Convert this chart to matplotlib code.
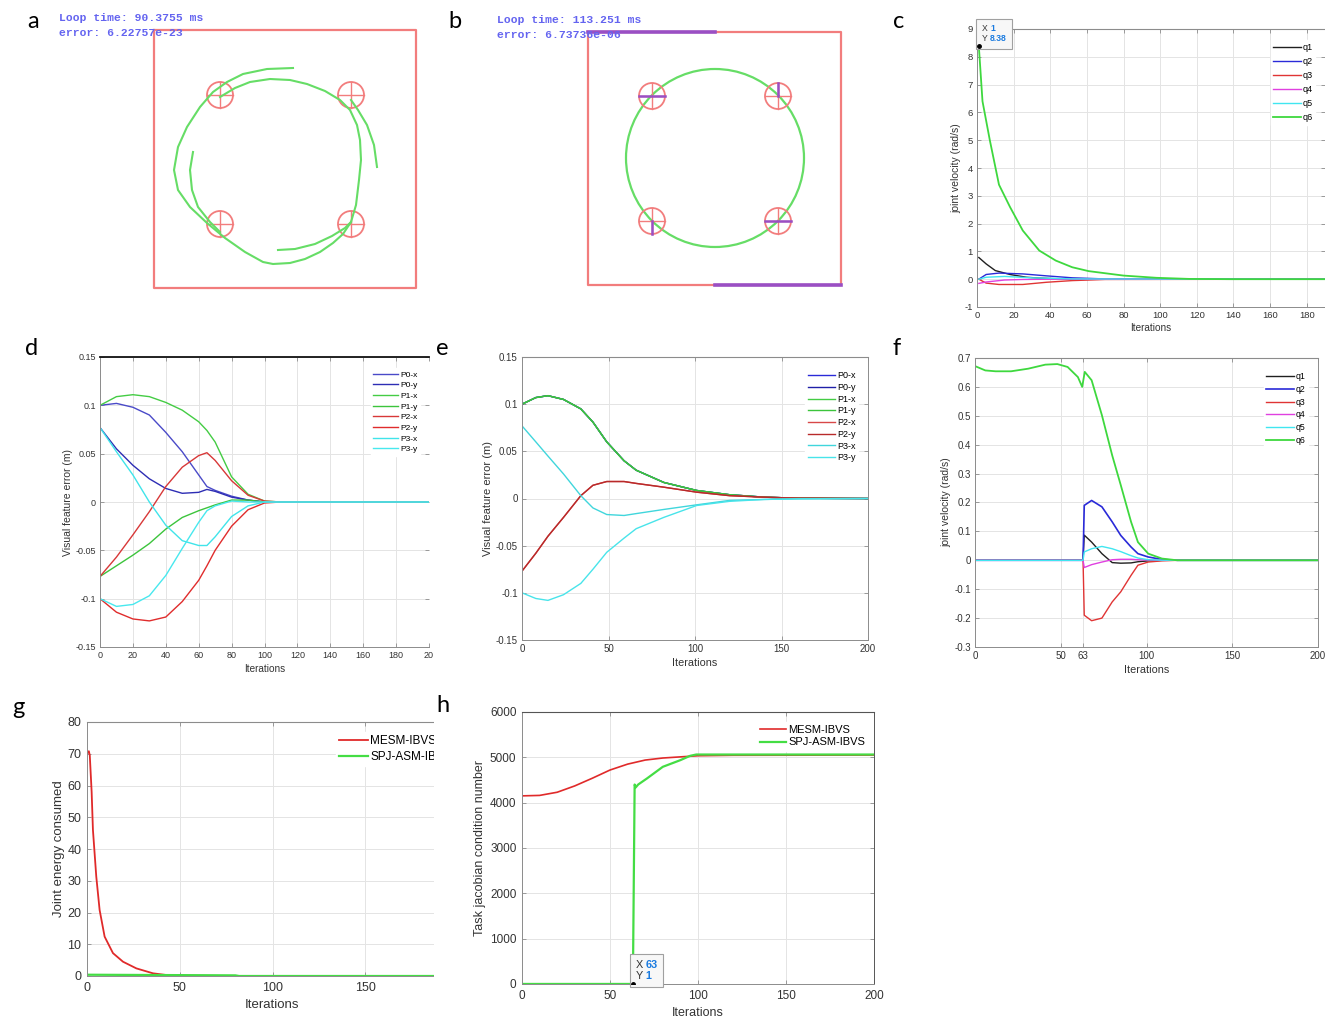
import matplotlib
matplotlib.use("Agg")
import matplotlib.pyplot as plt
from matplotlib.patches import Circle, Rectangle
from matplotlib.offsetbox import TextArea, HPacker, VPacker, AnnotationBbox

plt.rcParams["font.family"] = "Liberation Sans"
plt.rcParams["axes.unicode_minus"] = False

# ---------------- data ----------------
# panel a / b: camera image views (pixel coordinates of the picture)
a_box = [154, 30, 416, 288]
a_targets_x = [220, 351, 220, 351]
a_targets_y = [95, 95, 224, 224]
a_path1_x = [293, 267, 243, 227, 213, 200, 187, 178, 174, 178, 190, 207, 225, 245, 263, 273,
             290, 305, 320, 333, 343, 351, 356, 359, 361, 360, 357, 350, 340, 325, 307, 290,
             270, 250, 235, 220]
a_path1_y = [68, 69, 74, 82, 92, 107, 127, 147, 170, 190, 207, 223, 238, 252, 262, 264,
             263, 259, 252, 243, 234, 222, 205, 180, 160, 140, 125, 110, 100, 91, 84, 80,
             79, 82, 88, 97]
a_path2_x = [193, 190, 192, 198, 210, 220]
a_path2_y = [152, 170, 190, 207, 222, 232]
a_path3_x = [377, 374, 367, 358, 351]
a_path3_y = [167, 145, 125, 110, 100]
a_path4_x = [278, 295, 315, 332, 345, 351]
a_path4_y = [250, 249, 244, 236, 228, 222]

b_box = [588, 32, 841, 285]
b_targets_x = [652, 778, 652, 778]
b_targets_y = [96, 96, 221, 221]
b_circle = [715, 158, 89]

# panel c: joint velocity, MESM-IBVS
c_q1_x = [1, 5, 10, 18, 27, 34, 50, 190]
c_q1 = [0.78, 0.55, 0.31, 0.17, 0.07, 0.04, 0.0, 0.0]
c_q2_x = [1, 5, 12, 25, 38, 52, 70, 190]
c_q2 = [0.0, 0.17, 0.22, 0.19, 0.12, 0.05, 0.01, 0.0]
c_q3 = [0.0, -0.14, -0.19, -0.19, -0.11, -0.05, -0.01, 0.0]
c_q4_x = [1, 5, 15, 25, 40, 190]
c_q4 = [-0.15, -0.1, -0.03, -0.01, 0.0, 0.0]
c_q5_x = [1, 5, 15, 30, 52, 190]
c_q5 = [0.0, 0.07, 0.1, 0.05, 0.01, 0.0]
c_q6_x = [1, 3, 7, 12, 18, 25, 34, 43, 52, 61, 80, 98, 116, 140, 190]
c_q6 = [8.38, 6.4, 5.0, 3.4, 2.6, 1.75, 1.03, 0.67, 0.43, 0.29, 0.13, 0.05, 0.01, 0.0, 0.0]

# panel d: visual feature error, MESM-IBVS
d_iter = [0, 10, 20, 30, 40, 50, 60, 65, 70, 80, 90, 100, 110, 200]
d_p0x = [0.1, 0.102, 0.098, 0.09, 0.072, 0.052, 0.028, 0.016, 0.012, 0.006, 0.002, 0.0, 0.0, 0.0]
d_p0y = [0.077, 0.055, 0.038, 0.024, 0.014, 0.009, 0.010, 0.013, 0.011, 0.005, 0.002, 0.0, 0.0, 0.0]
d_p1x = [0.1, 0.109, 0.111, 0.109, 0.103, 0.095, 0.083, 0.074, 0.062, 0.026, 0.008, 0.001, 0.0, 0.0]
d_p1y = [-0.077, -0.066, -0.055, -0.043, -0.028, -0.016, -0.009, -0.006, -0.003, 0.002, 0.002, 0.0, 0.0, 0.0]
d_p2x = [-0.077, -0.057, -0.034, -0.01, 0.016, 0.036, 0.048, 0.051, 0.043, 0.022, 0.007, 0.001, 0.0, 0.0]
d_p2y = [-0.1, -0.114, -0.121, -0.123, -0.119, -0.103, -0.081, -0.066, -0.05, -0.025, -0.008, -0.001, 0.0, 0.0]
d_p3x = [0.077, 0.052, 0.028, 0.0, -0.024, -0.04, -0.045, -0.045, -0.036, -0.015, -0.004, 0.0, 0.0, 0.0]
d_p3y = [-0.1, -0.108, -0.106, -0.097, -0.076, -0.048, -0.021, -0.009, -0.004, 0.001, 0.0, 0.0, 0.0, 0.0]

# panel e: visual feature error, SPJ-ASM-IBVS
e_iter = [0, 8, 15, 24, 34, 41, 49, 59, 66, 82, 101, 120, 140, 160, 200]
e_p1 = [0.1, 0.107, 0.109, 0.105, 0.095, 0.081, 0.06, 0.04, 0.03, 0.017, 0.0085, 0.004, 0.0014, 0.0003, 0.0]
e_p2 = [-0.077, -0.058, -0.04, -0.02, 0.003, 0.014, 0.018, 0.018, 0.016, 0.012, 0.0067, 0.003, 0.0014, 0.0003, 0.0]
e_p3x = [0.077, 0.06, 0.045, 0.026, 0.003, -0.01, -0.017, -0.018, -0.016, -0.0116, -0.0067, -0.002, -0.001, -0.0003, 0.0]
e_p3y = [-0.1, -0.106, -0.108, -0.102, -0.09, -0.075, -0.057, -0.042, -0.032, -0.02, -0.0074, -0.003, -0.001, -0.0003, 0.0]

# panel f: joint velocity, SPJ-ASM-IBVS
f_iter6 = [0, 6, 12, 21, 31, 41, 48, 54, 60, 62.5, 64, 68, 74, 80, 85, 91, 95, 101, 109, 118, 200]
f_q6 = [0.672, 0.657, 0.654, 0.654, 0.663, 0.677, 0.679, 0.669, 0.634, 0.6, 0.652, 0.623, 0.502,
        0.363, 0.26, 0.133, 0.063, 0.023, 0.006, 0.0, 0.0]
f_iter = [0, 63, 63.7, 68, 74, 80, 85, 91, 95, 101, 109, 118, 200]
f_q1 = [0, 0, 0.087, 0.063, 0.023, -0.008, -0.01, -0.009, -0.005, -0.002, 0, 0, 0]
f_q2 = [0, 0, 0.19, 0.207, 0.185, 0.133, 0.086, 0.046, 0.023, 0.0115, 0.003, 0, 0]
f_q3 = [0, 0, -0.19, -0.209, -0.2, -0.144, -0.109, -0.052, -0.017, -0.006, -0.002, 0, 0]
f_q4 = [0, 0, -0.025, -0.015, -0.006, 0.002, 0.0035, 0.0035, 0.002, 0.001, 0, 0, 0]
f_q5 = [0, 0, 0.029, 0.04, 0.048, 0.04, 0.03, 0.016, 0.008, 0.002, 0.0005, 0, 0]

# panel g: joint energy consumed
g_mesm_x = [0, 1, 1.5, 2.5, 3.2, 5, 6.8, 9.5, 14, 19.4, 26.6, 35.6, 43, 50, 80, 200]
g_mesm = [70.0, 70.8, 69.5, 58.0, 46.0, 31.3, 20.8, 12.4, 7.2, 4.5, 2.4, 0.84, 0.3, 0.1, 0.0, 0.0]
g_spj_x = [0, 40, 80, 82, 200]
g_spj = [0.4, 0.3, 0.2, 0.0, 0.0]

# panel h: task jacobian condition number
h_mesm_x = [0, 10, 20, 30, 40, 50, 60, 70, 80, 90, 100, 120, 200]
h_mesm = [4150, 4160, 4230, 4370, 4540, 4720, 4850, 4940, 4985, 5010, 5035, 5045, 5050]
h_spj_x = [0, 63, 64, 64.6, 66, 71, 80, 90, 95.5, 99, 200]
h_spj = [1, 1, 4400, 4336, 4400, 4534, 4791, 4938, 5033, 5062, 5062]

# ---------------- figure ----------------
W, H = 1325, 1018
fig = plt.figure(figsize=(W / 100, H / 100), dpi=100)

GRID = "#e4e4e4"
SPINE = "#8c8c8c"
TXT = "#333333"
IMG_RED = "#f27d7d"
IMG_GREEN = "#66dd66"
PURPLE = "#9a4fc4"
IMG_TXT = "#6464f0"


def px_axes(l, t, r, b):
    return fig.add_axes([l / W, 1 - b / H, (r - l) / W, (b - t) / H])


def style_ax(ax, fs, right=True, top_color=SPINE, pad=2):
    ax.grid(True, color=GRID, linewidth=0.7)
    ax.set_axisbelow(True)
    ax.tick_params(direction="in", top=True, right=True, length=3, width=0.6,
                   labelsize=fs, colors=SPINE, labelcolor=TXT, pad=pad)
    for s in ("left", "bottom", "right"):
        ax.spines[s].set_color(SPINE)
        ax.spines[s].set_linewidth(0.7)
    ax.spines["top"].set_color(top_color)
    ax.spines["right"].set_visible(right)


def legend(ax, fs, spacing, **kw):
    leg = ax.legend(fontsize=fs, frameon=True, fancybox=False, framealpha=1,
                    edgecolor="white", borderpad=0.3, labelspacing=spacing,
                    handletextpad=0.2, **kw)
    return leg


def data_tip(ax, x, y, fs):
    tp_k = dict(color="#333333", fontsize=fs)
    tp_b = dict(color="#1a7be0", fontsize=fs, fontweight="bold")
    row1 = HPacker(children=[TextArea("X", textprops=tp_k), TextArea(f"{x:g}", textprops=tp_b)],
                   pad=0, sep=2)
    row2 = HPacker(children=[TextArea("Y", textprops=tp_k), TextArea(f"{y:g}", textprops=tp_b)],
                   pad=0, sep=2)
    box = VPacker(children=[row1, row2], align="left", pad=0, sep=1)
    ab = AnnotationBbox(box, (x, y), xybox=(2, 2), boxcoords="offset points",
                        box_alignment=(0, 0), pad=0.4, frameon=True,
                        bboxprops=dict(edgecolor="#a0a0a0", facecolor="#f7f7f7", lw=0.8))
    ax.add_artist(ab)
    ax.plot([x], [y], "o", color="black", ms=2.5, zorder=5)


def draw_target(ax, cx, cy, r=13):
    ax.add_patch(Circle((cx, cy), r, fill=False, edgecolor=IMG_RED, lw=1.3))
    ax.plot([cx - r, cx + r], [cy, cy], color=IMG_RED, lw=1.0)
    ax.plot([cx, cx], [cy - r, cy + r], color=IMG_RED, lw=1.0)


def draw_box(ax, box):
    l, t, r, b = box
    ax.plot([l, r, r, l, l], [t, t, b, b, t], color=IMG_RED, lw=1.6)


# ---- panel a ----
ax = px_axes(40, 0, 440, 300)
ax.set_xlim(40, 440)
ax.set_ylim(300, 0)
ax.axis("off")
draw_box(ax, a_box)
for cx, cy in zip(a_targets_x, a_targets_y):
    draw_target(ax, cx, cy)
for px, py in [(a_path1_x, a_path1_y), (a_path2_x, a_path2_y),
               (a_path3_x, a_path3_y), (a_path4_x, a_path4_y)]:
    ax.plot(px, py, color=IMG_GREEN, lw=1.5)
ax.text(59, 18, "Loop time: 90.3755 ms", family="Liberation Mono", fontsize=8.2,
        color=IMG_TXT, va="center", fontweight="bold")
ax.text(59, 33, "error: 6.22757e-23", family="Liberation Mono", fontsize=8.2,
        color=IMG_TXT, va="center", fontweight="bold")

# ---- panel b ----
ax = px_axes(470, 0, 870, 300)
ax.set_xlim(470, 870)
ax.set_ylim(300, 0)
ax.axis("off")
draw_box(ax, b_box)
l, t, r, b = b_box
ax.plot([l, b_circle[0]], [t, t], color=PURPLE, lw=2.6)
ax.plot([b_circle[0], r], [b, b], color=PURPLE, lw=2.6)
ax.add_patch(Circle((b_circle[0], b_circle[1]), b_circle[2], fill=False,
                    edgecolor=IMG_GREEN, lw=1.6))
for cx, cy in zip(b_targets_x, b_targets_y):
    draw_target(ax, cx, cy)
ax.plot([b_targets_x[0] - 13, b_targets_x[0] + 13], [b_targets_y[0]] * 2, color=PURPLE, lw=1.8)
ax.plot([b_targets_x[1]] * 2, [b_targets_y[1] - 13, b_targets_y[1]], color=PURPLE, lw=1.8)
ax.plot([b_targets_x[2]] * 2, [b_targets_y[2], b_targets_y[2] + 13], color=PURPLE, lw=1.8)
ax.plot([b_targets_x[3] - 13, b_targets_x[3] + 13], [b_targets_y[3]] * 2, color=PURPLE, lw=1.8)
ax.text(497, 20, "Loop time: 113.251 ms", family="Liberation Mono", fontsize=8.2,
        color=IMG_TXT, va="center", fontweight="bold")
ax.text(497, 35, "error: 6.73736e-06", family="Liberation Mono", fontsize=8.2,
        color=IMG_TXT, va="center", fontweight="bold")

# ---- panel c ----
ax = px_axes(977, 29, 1325, 307)
ax.plot(c_q1_x, c_q1, color="#202020", lw=1.0, label="q1")
ax.plot(c_q2_x, c_q2, color="#2a2ad8", lw=1.0, label="q2")
ax.plot(c_q2_x, c_q3, color="#e03434", lw=1.0, label="q3")
ax.plot(c_q4_x, c_q4, color="#e040e0", lw=1.0, label="q4")
ax.plot(c_q5_x, c_q5, color="#40e6f0", lw=1.0, label="q5")
ax.plot(c_q6_x, c_q6, color="#3ed83e", lw=1.3, label="q6")
ax.set_xlim(0, 190)
ax.set_ylim(-1, 9)
ax.set_xticks(range(0, 181, 20))
ax.set_yticks(range(-1, 10))
style_ax(ax, 6.8, right=False, pad=3)
ax.set_xlabel("Iterations", fontsize=7.2, color=TXT, labelpad=2)
ax.set_ylabel("joint velocity (rad/s)", fontsize=7.5, color=TXT, labelpad=2)
legend(ax, 6.5, 0.55, loc="upper right", bbox_to_anchor=(0.985, 0.975), handlelength=3.0)
data_tip(ax, 1, 8.38, 6.2)

# ---- panel d ----
ax = px_axes(100, 357, 429, 647)
ax.plot(d_iter, d_p0x, color="#4a4ac8", lw=1.0, label="P0-x")
ax.plot(d_iter, d_p0y, color="#2d2db4", lw=1.0, label="P0-y")
ax.plot(d_iter, d_p1x, color="#44cc44", lw=1.0, label="P1-x")
ax.plot(d_iter, d_p1y, color="#3cc43c", lw=1.0, label="P1-y")
ax.plot(d_iter, d_p2x, color="#d83838", lw=1.0, label="P2-x")
ax.plot(d_iter, d_p2y, color="#e02c2c", lw=1.0, label="P2-y")
ax.plot(d_iter, d_p3x, color="#40e4ea", lw=1.0, label="P3-x")
ax.plot(d_iter, d_p3y, color="#48e8ee", lw=1.0, label="P3-y")
ax.set_xlim(0, 200)
ax.set_ylim(-0.15, 0.15)
ax.set_xticks(range(0, 201, 20))
ax.set_xticklabels(["0", "20", "40", "60", "80", "100", "120", "140", "160", "180", "20"])
ax.set_yticks([-0.15, -0.1, -0.05, 0, 0.05, 0.1, 0.15])
ax.set_yticklabels(["-0.15", "-0.1", "-0.05", "0", "0.05", "0.1", "0.15"])
style_ax(ax, 6.5, right=False, top_color="#111111", pad=3)
ax.spines["top"].set_linewidth(1.3)
ax.set_xlabel("Iterations", fontsize=7.2, color=TXT, labelpad=3)
ax.set_ylabel("Visual feature error (m)", fontsize=7.5, color=TXT, labelpad=2)
legend(ax, 6, 0.34, loc="upper right", bbox_to_anchor=(0.985, 0.975), handlelength=3.0)

# ---- panel e ----
ax = px_axes(522, 357, 868, 640)
ax.plot(e_iter, e_p1, color="#2a2ad8", lw=1.0, label="P0-x")
ax.plot(e_iter, e_p1, color="#2020a8", lw=1.0, label="P0-y")
ax.plot(e_iter, e_p1, color="#44cc44", lw=1.0, label="P1-x")
ax.plot(e_iter, e_p1, color="#3cc43c", lw=1.0, label="P1-y")
ax.plot(e_iter, e_p2, color="#d84848", lw=1.0, label="P2-x")
ax.plot(e_iter, e_p2, color="#b82a2a", lw=1.0, label="P2-y")
ax.plot(e_iter, e_p3x, color="#40d6dc", lw=1.0, label="P3-x")
ax.plot(e_iter, e_p3y, color="#48e4ea", lw=1.0, label="P3-y")
ax.set_xlim(0, 200)
ax.set_ylim(-0.15, 0.15)
ax.set_xticks(range(0, 201, 50))
ax.set_yticks([-0.15, -0.1, -0.05, 0, 0.05, 0.1, 0.15])
ax.set_yticklabels(["-0.15", "-0.1", "-0.05", "0", "0.05", "0.1", "0.15"])
style_ax(ax, 7, pad=3)
ax.set_xlabel("Iterations", fontsize=7.8, color=TXT, labelpad=3)
ax.set_ylabel("Visual feature error (m)", fontsize=8, color=TXT, labelpad=2)
legend(ax, 6.5, 0.3, loc="upper right", bbox_to_anchor=(0.985, 0.975), handlelength=3.0)

# ---- panel f ----
ax = px_axes(975, 358, 1318, 647)
ax.plot(f_iter, f_q1, color="#202020", lw=1.0, label="q1")
ax.plot(f_iter, f_q2, color="#2a2ad8", lw=1.2, label="q2")
ax.plot(f_iter, f_q3, color="#e03434", lw=1.0, label="q3")
ax.plot(f_iter, f_q4, color="#e040e0", lw=1.0, label="q4")
ax.plot(f_iter, f_q5, color="#40e6f0", lw=1.0, label="q5")
ax.plot(f_iter6, f_q6, color="#3ed83e", lw=1.3, label="q6")
ax.set_xlim(0, 200)
ax.set_ylim(-0.3, 0.7)
ax.set_xticks([0, 50, 63, 100, 150, 200])
ax.set_yticks([-0.3, -0.2, -0.1, 0, 0.1, 0.2, 0.3, 0.4, 0.5, 0.6, 0.7])
ax.set_yticklabels(["-0.3", "-0.2", "-0.1", "0", "0.1", "0.2", "0.3", "0.4", "0.5", "0.6", "0.7"])
style_ax(ax, 7, pad=3)
ax.set_xlabel("Iterations", fontsize=7.8, color=TXT, labelpad=3)
ax.set_ylabel("joint velocity (rad/s)", fontsize=7.5, color=TXT, labelpad=2)
legend(ax, 6.3, 0.42, loc="upper right", bbox_to_anchor=(0.985, 0.975), handlelength=3.2)

# ---- panel g ----
ax = px_axes(87, 722, 458, 976)
ax.plot(g_mesm_x, g_mesm, color="#e02a2a", lw=1.3, label="MESM-IBVS")
ax.plot(g_spj_x, g_spj, color="#44dd44", lw=1.6, label="SPJ-ASM-IBVS")
ax.set_xlim(0, 200)
ax.set_ylim(0, 80)
ax.set_xticks(range(0, 151, 50))
ax.set_yticks(range(0, 81, 10))
style_ax(ax, 9, pad=4)
ax.set_xlabel("Iterations", fontsize=9.5, color=TXT, labelpad=4)
ax.set_ylabel("Joint energy consumed", fontsize=9.5, color=TXT, labelpad=2)
legend(ax, 8.5, 0.3, loc="upper left", bbox_to_anchor=(0.655, 0.985), handlelength=2.4)
# the original crop cuts panel g on its right side
fig.add_artist(Rectangle((434 / W, 0), 30 / W, 330 / H, transform=fig.transFigure,
                         facecolor="white", edgecolor="none"))

# ---- panel h ----
ax = px_axes(522, 712, 874, 984)
ax.plot(h_mesm_x, h_mesm, color="#e02a2a", lw=1.2, label="MESM-IBVS")
ax.plot(h_spj_x, h_spj, color="#44dd44", lw=1.6, label="SPJ-ASM-IBVS")
ax.set_xlim(0, 200)
ax.set_ylim(0, 6000)
ax.set_xticks(range(0, 201, 50))
ax.set_yticks(range(0, 6001, 1000))
style_ax(ax, 8.5, top_color="#555555", pad=4)
ax.spines["right"].set_color("#555555")
ax.set_xlabel("Iterations", fontsize=9, color=TXT, labelpad=4)
ax.set_ylabel("Task jacobian condition number", fontsize=9, color=TXT, labelpad=3)
legend(ax, 8, 0.22, loc="upper right", bbox_to_anchor=(1.0, 0.985), handlelength=2.3)
data_tip(ax, 63, 1, 7.8)

# ---- panel letters ----
for letter, x, y in [("a", 33, 22), ("b", 455, 22), ("c", 899, 22), ("d", 32, 349),
                     ("e", 442, 349), ("f", 897, 349), ("g", 18, 707), ("h", 443, 706)]:
    fig.text(x / W, 1 - y / H, letter, fontsize=17, family="Lato", ha="center", va="center")

fig.savefig("out.png", dpi=100)
